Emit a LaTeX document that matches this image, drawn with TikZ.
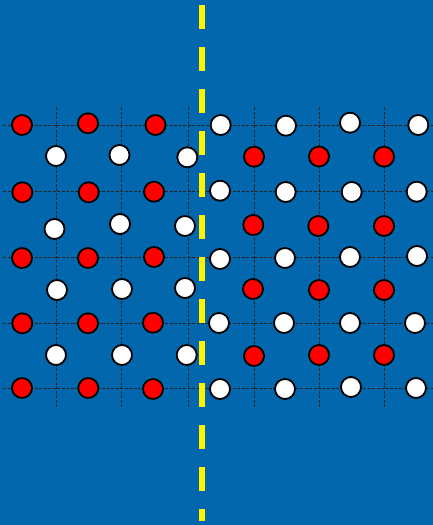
\documentclass[tikz,border=0pt]{standalone}
\begin{document}
\begin{tikzpicture}[x=1pt,y=-1pt,
  bgblue/.style={fill={rgb,255:red,2;green,103;blue,172}},
  gridline/.style={draw=black!85,line width=0.7pt,dash pattern=on 3pt off 1.5pt},
  atom/.style={circle,draw=black,line width=1.8pt,minimum size=20pt,inner sep=0pt},
  redatom/.style={atom,fill=red},
  whiteatom/.style={atom,fill=white},
  divider/.style={draw=yellow,line width=6pt,dash pattern=on 24pt off 18pt}]
\fill[bgblue] (0,0) rectangle (433,525);
\useasboundingbox (0,0) rectangle (433,525);
% grid
\foreach \y in {125,191.5,257.5,323,388.5}{
  \draw[gridline] (3,\y) -- (433,\y);}
\foreach \x in {56,121,188,254,319,384}{
  \draw[gridline] (\x,107) -- (\x,407);}
% red atoms, left half
\node[redatom] (r11) at (22,125) {};
\node[redatom] (r12) at (88,123.3) {};
\node[redatom] (r13) at (155.5,125) {};
\node[redatom] (r21) at (22.3,192.3) {};
\node[redatom] (r22) at (88.7,192.3) {};
\node[redatom] (r23) at (154,191.7) {};
\node[redatom] (r31) at (22,258) {};
\node[redatom] (r32) at (88,258) {};
\node[redatom] (r33) at (154,257) {};
\node[redatom] (r41) at (22.3,323.3) {};
\node[redatom] (r42) at (88,323.3) {};
\node[redatom] (r43) at (153,322.7) {};
\node[redatom] (r51) at (22,388) {};
\node[redatom] (r52) at (88.3,388) {};
\node[redatom] (r53) at (153,389) {};
% white atoms, left half
\node[whiteatom] (w11) at (56,156) {};
\node[whiteatom] (w12) at (119.5,155) {};
\node[whiteatom] (w13) at (187.3,157.3) {};
\node[whiteatom] (w21) at (54.5,229) {};
\node[whiteatom] (w22) at (120,224) {};
\node[whiteatom] (w23) at (185,226) {};
\node[whiteatom] (w31) at (57,290) {};
\node[whiteatom] (w32) at (122,289) {};
\node[whiteatom] (w33) at (185,288) {};
\node[whiteatom] (w41) at (56,355) {};
\node[whiteatom] (w42) at (122,355) {};
\node[whiteatom] (w43) at (186.7,355) {};
% white atoms, right half
\node[whiteatom] (v11) at (220.7,125) {};
\node[whiteatom] (v12) at (286,125.7) {};
\node[whiteatom] (v13) at (350,122.7) {};
\node[whiteatom] (v14) at (418.3,125) {};
\node[whiteatom] (v21) at (220,190.7) {};
\node[whiteatom] (v22) at (285.7,192) {};
\node[whiteatom] (v23) at (351.7,192) {};
\node[whiteatom] (v24) at (416.7,191.7) {};
\node[whiteatom] (v31) at (220,259) {};
\node[whiteatom] (v32) at (285,258) {};
\node[whiteatom] (v33) at (350,257) {};
\node[whiteatom] (v34) at (417,256) {};
\node[whiteatom] (v41) at (219,323) {};
\node[whiteatom] (v42) at (284,323) {};
\node[whiteatom] (v43) at (350,323) {};
\node[whiteatom] (v44) at (415,323) {};
\node[whiteatom] (v51) at (220,389) {};
\node[whiteatom] (v52) at (285,389) {};
\node[whiteatom] (v53) at (351,387) {};
\node[whiteatom] (v54) at (416,388) {};
% red atoms, right half
\node[redatom] (s11) at (254,156.7) {};
\node[redatom] (s12) at (319,156.5) {};
\node[redatom] (s13) at (384,156.7) {};
\node[redatom] (s21) at (253.3,225) {};
\node[redatom] (s22) at (318.3,226) {};
\node[redatom] (s23) at (384,226) {};
\node[redatom] (s31) at (253,289) {};
\node[redatom] (s32) at (319,290) {};
\node[redatom] (s33) at (384,290) {};
\node[redatom] (s41) at (254,356) {};
\node[redatom] (s42) at (319,355) {};
\node[redatom] (s43) at (384,355) {};
% yellow divider
\coordinate (dtop) at (202,5);
\coordinate (dbot) at (202,521);
\draw[divider] (dtop) -- (dbot);
\end{tikzpicture}
\end{document}
